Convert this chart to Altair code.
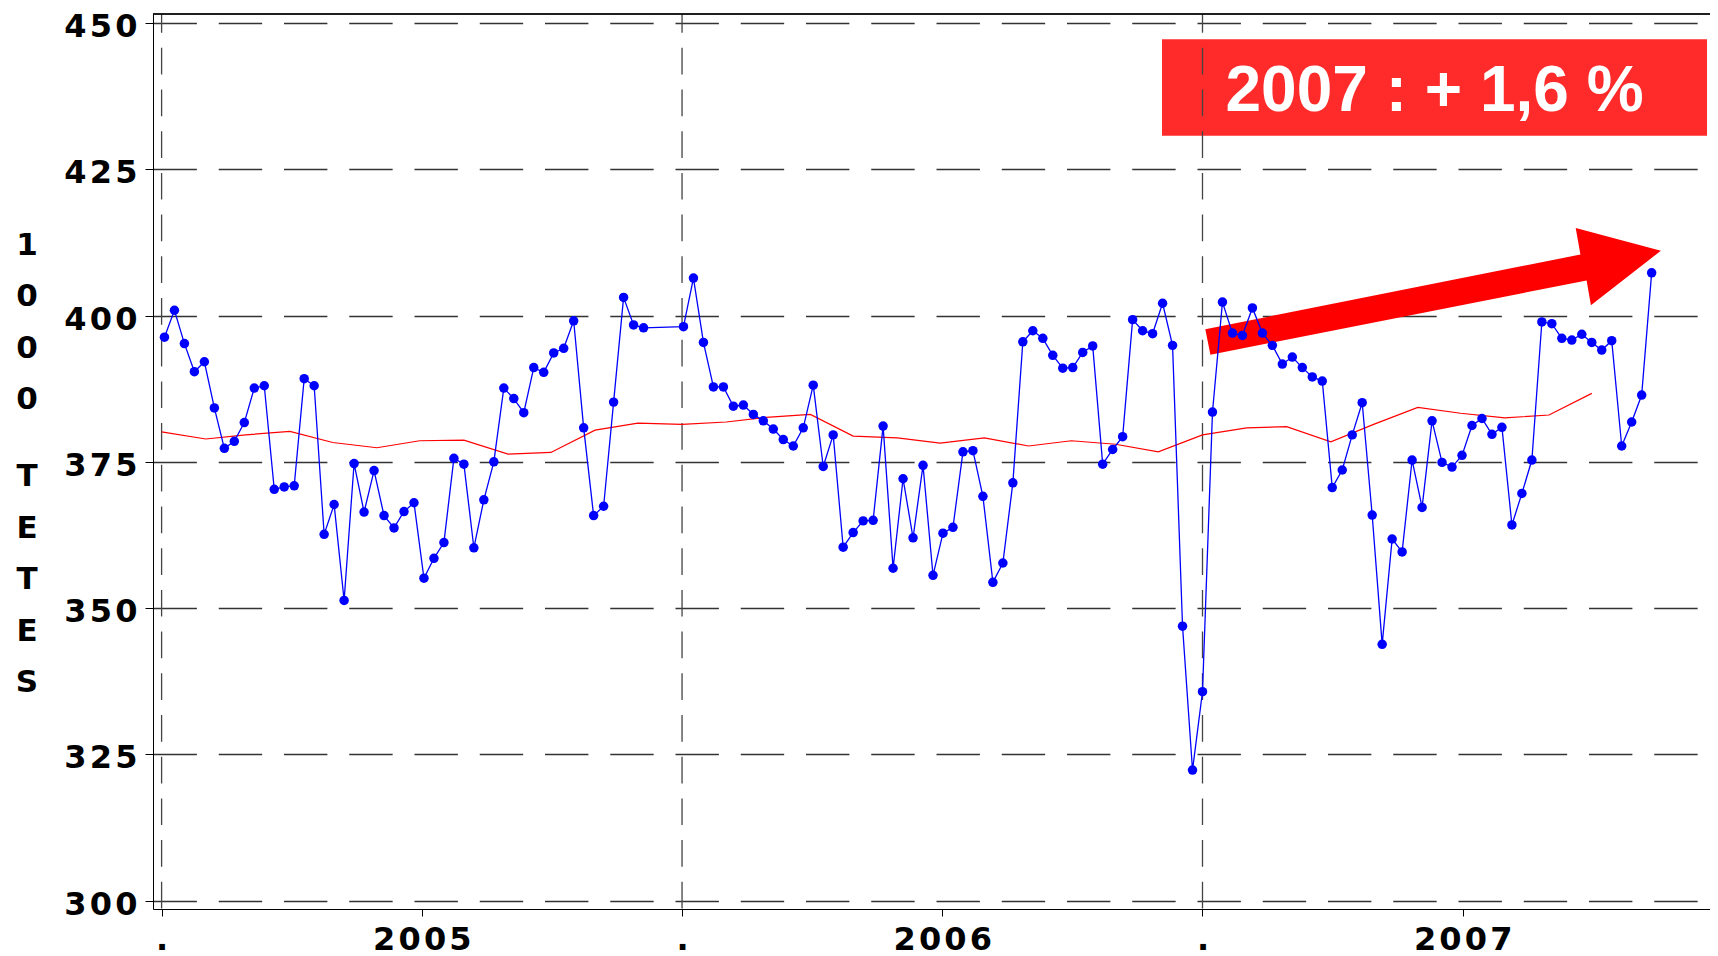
import altair as alt
import pandas as pd

# ---------------- data ----------------
week_start = "2005-01-03"
weekly_values = [
    396.3, 400.9, 395.2, 390.4, 392.1, 384.2, 377.3, 378.5, 381.7, 387.6,
    388.0, 370.3, 370.7, 370.9, 389.2, 388.0, 362.6, 367.7, 351.3, 374.7,
    366.4, 373.5, 365.8, 363.7, 366.5, 368.0, 355.1, 358.5, 361.2, 375.6,
    374.6, 360.3, 368.5, 375.0, 387.6, 385.8, 383.4, 391.1, 390.3, 393.6,
    394.4, 399.1, 380.8, 365.8, 367.4, 385.2, 403.1, 398.4, 397.9,
    None, None, None,
    398.1, 406.4, 395.4, 387.8, 387.8, 384.5, 384.7, 383.1, 382.0, 380.6,
    378.8, 377.7, 380.8, 388.1, 374.2, 379.6, 360.4, 362.9, 364.9, 365.0,
    381.1, 356.8, 372.1, 362.0, 374.4, 355.6, 362.8, 363.8, 376.7, 376.9,
    369.1, 354.4, 357.7, 371.4, 395.5, 397.4, 396.1, 393.2, 391.0, 391.1,
    393.7, 394.8, 374.6, 377.1, 379.3, 399.3, 397.4, 396.9, 402.1, 394.9,
    346.9, 322.3, 335.7, 383.5, 402.3, 397.0, 396.6, 401.3, 397.0, 394.9,
    391.7, 392.9, 391.1, 389.5, 388.8, 370.6, 373.6, 379.6, 385.1, 365.9,
    343.8, 361.8, 359.6, 375.3, 367.2, 382.0, 374.9, 374.1, 376.1, 381.2,
    382.4, 379.7, 380.9, 364.2, 369.6, 375.3, 398.9, 398.6, 396.1, 395.8,
    396.8, 395.4, 394.1, 395.7, 377.7, 381.8, 386.4, 407.3,
]
month_start = "2005-01-01"
monthly_values = [
    380.1, 378.9, 379.6, 380.2, 378.3, 377.4, 378.6, 378.7, 376.3, 376.6, 380.4, 381.6,
    381.4, 381.8, 382.6, 383.1, 379.4, 379.1, 378.2, 379.1, 377.7, 378.6, 378.0, 376.7,
    379.6, 380.8, 381.0, 378.4, 381.4, 384.3, 383.3, 382.5, 383.0, 386.7,
]
y_ticks = [300, 325, 350, 375, 400, 425, 450]
year_labels = ["2005", "2006", "2007"]
title_top = ["1", "0", "0", "0"]
title_bottom = ["T", "E", "T", "E", "S"]
badge_text = "2007 : + 1,6 %"
badge_box = {"t": 2006.9222, "t2": 2007.9694, "v": 447.21, "v2": 430.74}
badge_anchor = {"t": 2007.4458, "v": 438.14}
arrow_tip = {"t": 2007.8808, "v": 411.08}

# ---------------- layout ----------------
W, H = 1557, 895
X_DOMAIN = [2004.98348, 2007.97512]
Y_DOMAIN = [298.56, 451.54]
SEP = "\u200a"


def frac_year(d):
    return d.year + (d.dayofyear - 1) / (366 if d.is_leap_year else 365)


weeks = pd.date_range(week_start, periods=len(weekly_values), freq="7D")
df_w = pd.DataFrame({"t": [frac_year(d) for d in weeks], "v": weekly_values}).dropna()
months = pd.date_range(month_start, periods=len(monthly_values), freq="MS")
df_m = pd.DataFrame({"t": [frac_year(d) for d in months], "v": monthly_values})
df_years = pd.DataFrame({"t": [float(y) for y in year_labels]})

x_tick_values = []
for y in year_labels:
    x_tick_values += [float(y), float(y) + 0.5]

xscale = alt.Scale(domain=X_DOMAIN, nice=False, zero=False)
yscale = alt.Scale(domain=Y_DOMAIN, nice=False, zero=False)

label_style = dict(
    labelFont="DejaVu Sans", labelFontWeight="bold", labelFontSize=32,
    labelColor="black", labelFlush=False, labelOverlap=False, labelBound=False,
    domainColor="black", domainWidth=1, tickColor="black", tickWidth=1,
)
xaxis = alt.Axis(
    values=x_tick_values, title=None, grid=False, tickSize=7, labelPadding=8,
    labelExpr=f"datum.value % 1 == 0 ? '.' : join(split(toString(floor(datum.value)), ''), '{SEP}')",
    **label_style,
)
yaxis = alt.Axis(
    values=y_ticks, title=None, grid=True, gridDash=[43.4, 21.85], gridColor="#333333",
    gridWidth=1.3, tickSize=8, labelPadding=8, labelOffset=3.5,
    labelExpr=f"join(split(toString(datum.value), ''), '{SEP}')",
    **label_style,
)

X = alt.X("t:Q", scale=xscale, axis=xaxis)
Y = alt.Y("v:Q", scale=yscale, axis=yaxis)

badge = alt.Chart(pd.DataFrame([badge_box])).mark_rect(color="#ff2a2a").encode(
    x=X, x2="t2:Q", y=Y, y2="v2:Q"
)
badge_label = alt.Chart(pd.DataFrame([{**badge_anchor, "label": badge_text}])).mark_text(
    font="Liberation Sans", fontWeight="bold", fontSize=64, color="white",
    align="center", baseline="middle",
).encode(x=X, y=Y, text="label:N")

vgrid = alt.Chart(df_years).mark_rule(
    color="#444444", strokeWidth=1.3, strokeDash=[26.7, 15], strokeDashOffset=7.9
).encode(x=X, y=alt.value(0), y2=alt.value(H))

top_frame = alt.Chart(df_years).mark_rule(color="black", strokeWidth=1).encode(
    x=alt.value(0), x2=alt.value(W), y=alt.value(0)
)

red = alt.Chart(df_m).mark_line(color="#ff0000", strokeWidth=1.2).encode(x=X, y=Y)

arrow_path = ("M-455.6,78.5 L-80.5,3.8 L-85.2,-22.7 L0,0 L-70,54.5 "
              "L-74.3,29.7 L-450.5,104 Z")
arrow = alt.Chart(pd.DataFrame([arrow_tip])).mark_point(
    shape=arrow_path, size=4, filled=True, color="#ff0000", opacity=1, strokeWidth=0
).encode(x=X, y=Y)

blue_line = alt.Chart(df_w).mark_line(color="#0000ff", strokeWidth=1.3).encode(x=X, y=Y)
blue_pts = alt.Chart(df_w).mark_circle(color="#0000ff", size=90, opacity=1).encode(x=X, y=Y)

title_a = alt.Chart(pd.DataFrame({"txt": ["\n".join(title_top)]})).mark_text(
    font="DejaVu Sans", fontWeight="bold", fontSize=31, color="black",
    align="center", baseline="middle", lineBreak="\n", lineHeight=51.3,
).encode(x=alt.value(-126), y=alt.value(232), text="txt:N")
title_b = alt.Chart(pd.DataFrame({"txt": ["\n".join(title_bottom)]})).mark_text(
    font="DejaVu Sans", fontWeight="bold", fontSize=31, color="black",
    align="center", baseline="middle", lineBreak="\n", lineHeight=51.5,
).encode(x=alt.value(-126), y=alt.value(463), text="txt:N")

chart = alt.layer(
    badge, badge_label, vgrid, red, arrow, blue_line, blue_pts, top_frame, title_a, title_b
).properties(
    width=W, height=H,
    autosize=alt.AutoSizeParams(type="none"),
    padding={"left": 145, "top": 6, "right": 0, "bottom": 47},
    background="white",
).configure_view(stroke=None)

chart.save("out.html", embed_options={"renderer": "svg", "actions": False})
